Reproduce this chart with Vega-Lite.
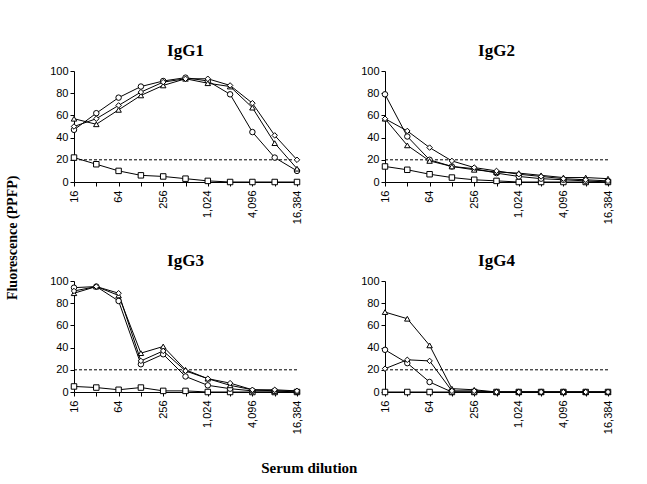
{
  "$schema": "https://vega.github.io/schema/vega-lite/v6.json",
  "padding": {"left": 5, "top": 42, "right": 5, "bottom": 5},
  "background": "white",
  "config": {
    "view": {"stroke": null},
    "font": "Liberation Sans",
    "axis": {"grid": false, "domainColor": "black", "tickColor": "black", "labelColor": "black", "labelFont": "Liberation Sans", "labelFontSize": 11, "tickSize": 4, "domainWidth": 1, "tickWidth": 1, "labelOverlap": false}
  },
  "title": {"text": "Serum dilution", "orient": "bottom", "font": "Liberation Serif", "fontSize": 15, "fontWeight": "bold", "offset": 27, "anchor": "middle", "color": "black"},
  "data": {"values": [
    {"panel":"IgG1","series":"square","dilution":16,"ppfp":22},{"panel":"IgG1","series":"square","dilution":32,"ppfp":16},{"panel":"IgG1","series":"square","dilution":64,"ppfp":10},{"panel":"IgG1","series":"square","dilution":128,"ppfp":6},{"panel":"IgG1","series":"square","dilution":256,"ppfp":5},{"panel":"IgG1","series":"square","dilution":512,"ppfp":3},{"panel":"IgG1","series":"square","dilution":1024,"ppfp":1},{"panel":"IgG1","series":"square","dilution":2048,"ppfp":0},{"panel":"IgG1","series":"square","dilution":4096,"ppfp":0},{"panel":"IgG1","series":"square","dilution":8192,"ppfp":0},{"panel":"IgG1","series":"square","dilution":16384,"ppfp":0},
    {"panel":"IgG1","series":"circle","dilution":16,"ppfp":47},{"panel":"IgG1","series":"circle","dilution":32,"ppfp":62},{"panel":"IgG1","series":"circle","dilution":64,"ppfp":76},{"panel":"IgG1","series":"circle","dilution":128,"ppfp":86},{"panel":"IgG1","series":"circle","dilution":256,"ppfp":91},{"panel":"IgG1","series":"circle","dilution":512,"ppfp":94},{"panel":"IgG1","series":"circle","dilution":1024,"ppfp":91},{"panel":"IgG1","series":"circle","dilution":2048,"ppfp":79},{"panel":"IgG1","series":"circle","dilution":4096,"ppfp":45},{"panel":"IgG1","series":"circle","dilution":8192,"ppfp":22},{"panel":"IgG1","series":"circle","dilution":16384,"ppfp":10},
    {"panel":"IgG1","series":"triangle","dilution":16,"ppfp":57},{"panel":"IgG1","series":"triangle","dilution":32,"ppfp":52},{"panel":"IgG1","series":"triangle","dilution":64,"ppfp":65},{"panel":"IgG1","series":"triangle","dilution":128,"ppfp":78},{"panel":"IgG1","series":"triangle","dilution":256,"ppfp":87},{"panel":"IgG1","series":"triangle","dilution":512,"ppfp":93},{"panel":"IgG1","series":"triangle","dilution":1024,"ppfp":89},{"panel":"IgG1","series":"triangle","dilution":2048,"ppfp":86},{"panel":"IgG1","series":"triangle","dilution":4096,"ppfp":67},{"panel":"IgG1","series":"triangle","dilution":8192,"ppfp":35},{"panel":"IgG1","series":"triangle","dilution":16384,"ppfp":12},
    {"panel":"IgG1","series":"diamond","dilution":16,"ppfp":50},{"panel":"IgG1","series":"diamond","dilution":32,"ppfp":57},{"panel":"IgG1","series":"diamond","dilution":64,"ppfp":69},{"panel":"IgG1","series":"diamond","dilution":128,"ppfp":81},{"panel":"IgG1","series":"diamond","dilution":256,"ppfp":90},{"panel":"IgG1","series":"diamond","dilution":512,"ppfp":93},{"panel":"IgG1","series":"diamond","dilution":1024,"ppfp":93},{"panel":"IgG1","series":"diamond","dilution":2048,"ppfp":87},{"panel":"IgG1","series":"diamond","dilution":4096,"ppfp":71},{"panel":"IgG1","series":"diamond","dilution":8192,"ppfp":42},{"panel":"IgG1","series":"diamond","dilution":16384,"ppfp":20},
    {"panel":"IgG2","series":"square","dilution":16,"ppfp":14},{"panel":"IgG2","series":"square","dilution":32,"ppfp":11},{"panel":"IgG2","series":"square","dilution":64,"ppfp":7},{"panel":"IgG2","series":"square","dilution":128,"ppfp":4},{"panel":"IgG2","series":"square","dilution":256,"ppfp":2},{"panel":"IgG2","series":"square","dilution":512,"ppfp":1},{"panel":"IgG2","series":"square","dilution":1024,"ppfp":0},{"panel":"IgG2","series":"square","dilution":2048,"ppfp":0},{"panel":"IgG2","series":"square","dilution":4096,"ppfp":0},{"panel":"IgG2","series":"square","dilution":8192,"ppfp":0},{"panel":"IgG2","series":"square","dilution":16384,"ppfp":0},
    {"panel":"IgG2","series":"circle","dilution":16,"ppfp":79},{"panel":"IgG2","series":"circle","dilution":32,"ppfp":41},{"panel":"IgG2","series":"circle","dilution":64,"ppfp":20},{"panel":"IgG2","series":"circle","dilution":128,"ppfp":14},{"panel":"IgG2","series":"circle","dilution":256,"ppfp":12},{"panel":"IgG2","series":"circle","dilution":512,"ppfp":8},{"panel":"IgG2","series":"circle","dilution":1024,"ppfp":5},{"panel":"IgG2","series":"circle","dilution":2048,"ppfp":3},{"panel":"IgG2","series":"circle","dilution":4096,"ppfp":2},{"panel":"IgG2","series":"circle","dilution":8192,"ppfp":1},{"panel":"IgG2","series":"circle","dilution":16384,"ppfp":0},
    {"panel":"IgG2","series":"triangle","dilution":16,"ppfp":57},{"panel":"IgG2","series":"triangle","dilution":32,"ppfp":33},{"panel":"IgG2","series":"triangle","dilution":64,"ppfp":19},{"panel":"IgG2","series":"triangle","dilution":128,"ppfp":14},{"panel":"IgG2","series":"triangle","dilution":256,"ppfp":11},{"panel":"IgG2","series":"triangle","dilution":512,"ppfp":9},{"panel":"IgG2","series":"triangle","dilution":1024,"ppfp":8},{"panel":"IgG2","series":"triangle","dilution":2048,"ppfp":6},{"panel":"IgG2","series":"triangle","dilution":4096,"ppfp":4},{"panel":"IgG2","series":"triangle","dilution":8192,"ppfp":4},{"panel":"IgG2","series":"triangle","dilution":16384,"ppfp":3},
    {"panel":"IgG2","series":"diamond","dilution":16,"ppfp":57},{"panel":"IgG2","series":"diamond","dilution":32,"ppfp":46},{"panel":"IgG2","series":"diamond","dilution":64,"ppfp":31},{"panel":"IgG2","series":"diamond","dilution":128,"ppfp":19},{"panel":"IgG2","series":"diamond","dilution":256,"ppfp":13},{"panel":"IgG2","series":"diamond","dilution":512,"ppfp":10},{"panel":"IgG2","series":"diamond","dilution":1024,"ppfp":7},{"panel":"IgG2","series":"diamond","dilution":2048,"ppfp":5},{"panel":"IgG2","series":"diamond","dilution":4096,"ppfp":3},{"panel":"IgG2","series":"diamond","dilution":8192,"ppfp":2},{"panel":"IgG2","series":"diamond","dilution":16384,"ppfp":1},
    {"panel":"IgG3","series":"square","dilution":16,"ppfp":5},{"panel":"IgG3","series":"square","dilution":32,"ppfp":4},{"panel":"IgG3","series":"square","dilution":64,"ppfp":2},{"panel":"IgG3","series":"square","dilution":128,"ppfp":4},{"panel":"IgG3","series":"square","dilution":256,"ppfp":1},{"panel":"IgG3","series":"square","dilution":512,"ppfp":1},{"panel":"IgG3","series":"square","dilution":1024,"ppfp":0},{"panel":"IgG3","series":"square","dilution":2048,"ppfp":0},{"panel":"IgG3","series":"square","dilution":4096,"ppfp":0},{"panel":"IgG3","series":"square","dilution":8192,"ppfp":0},{"panel":"IgG3","series":"square","dilution":16384,"ppfp":0},
    {"panel":"IgG3","series":"circle","dilution":16,"ppfp":94},{"panel":"IgG3","series":"circle","dilution":32,"ppfp":95},{"panel":"IgG3","series":"circle","dilution":64,"ppfp":82},{"panel":"IgG3","series":"circle","dilution":128,"ppfp":25},{"panel":"IgG3","series":"circle","dilution":256,"ppfp":34},{"panel":"IgG3","series":"circle","dilution":512,"ppfp":14},{"panel":"IgG3","series":"circle","dilution":1024,"ppfp":6},{"panel":"IgG3","series":"circle","dilution":2048,"ppfp":3},{"panel":"IgG3","series":"circle","dilution":4096,"ppfp":1},{"panel":"IgG3","series":"circle","dilution":8192,"ppfp":1},{"panel":"IgG3","series":"circle","dilution":16384,"ppfp":0},
    {"panel":"IgG3","series":"triangle","dilution":16,"ppfp":89},{"panel":"IgG3","series":"triangle","dilution":32,"ppfp":95},{"panel":"IgG3","series":"triangle","dilution":64,"ppfp":87},{"panel":"IgG3","series":"triangle","dilution":128,"ppfp":35},{"panel":"IgG3","series":"triangle","dilution":256,"ppfp":41},{"panel":"IgG3","series":"triangle","dilution":512,"ppfp":20},{"panel":"IgG3","series":"triangle","dilution":1024,"ppfp":12},{"panel":"IgG3","series":"triangle","dilution":2048,"ppfp":6},{"panel":"IgG3","series":"triangle","dilution":4096,"ppfp":2},{"panel":"IgG3","series":"triangle","dilution":8192,"ppfp":1},{"panel":"IgG3","series":"triangle","dilution":16384,"ppfp":1},
    {"panel":"IgG3","series":"diamond","dilution":16,"ppfp":91},{"panel":"IgG3","series":"diamond","dilution":32,"ppfp":95},{"panel":"IgG3","series":"diamond","dilution":64,"ppfp":89},{"panel":"IgG3","series":"diamond","dilution":128,"ppfp":28},{"panel":"IgG3","series":"diamond","dilution":256,"ppfp":37},{"panel":"IgG3","series":"diamond","dilution":512,"ppfp":19},{"panel":"IgG3","series":"diamond","dilution":1024,"ppfp":12},{"panel":"IgG3","series":"diamond","dilution":2048,"ppfp":8},{"panel":"IgG3","series":"diamond","dilution":4096,"ppfp":2},{"panel":"IgG3","series":"diamond","dilution":8192,"ppfp":2},{"panel":"IgG3","series":"diamond","dilution":16384,"ppfp":1},
    {"panel":"IgG4","series":"square","dilution":16,"ppfp":0},{"panel":"IgG4","series":"square","dilution":32,"ppfp":0},{"panel":"IgG4","series":"square","dilution":64,"ppfp":0},{"panel":"IgG4","series":"square","dilution":128,"ppfp":0},{"panel":"IgG4","series":"square","dilution":256,"ppfp":0},{"panel":"IgG4","series":"square","dilution":512,"ppfp":0},{"panel":"IgG4","series":"square","dilution":1024,"ppfp":0},{"panel":"IgG4","series":"square","dilution":2048,"ppfp":0},{"panel":"IgG4","series":"square","dilution":4096,"ppfp":0},{"panel":"IgG4","series":"square","dilution":8192,"ppfp":0},{"panel":"IgG4","series":"square","dilution":16384,"ppfp":0},
    {"panel":"IgG4","series":"circle","dilution":16,"ppfp":38},{"panel":"IgG4","series":"circle","dilution":32,"ppfp":26},{"panel":"IgG4","series":"circle","dilution":64,"ppfp":9},{"panel":"IgG4","series":"circle","dilution":128,"ppfp":0},{"panel":"IgG4","series":"circle","dilution":256,"ppfp":0},{"panel":"IgG4","series":"circle","dilution":512,"ppfp":0},{"panel":"IgG4","series":"circle","dilution":1024,"ppfp":0},{"panel":"IgG4","series":"circle","dilution":2048,"ppfp":0},{"panel":"IgG4","series":"circle","dilution":4096,"ppfp":0},{"panel":"IgG4","series":"circle","dilution":8192,"ppfp":0},{"panel":"IgG4","series":"circle","dilution":16384,"ppfp":0},
    {"panel":"IgG4","series":"triangle","dilution":16,"ppfp":72},{"panel":"IgG4","series":"triangle","dilution":32,"ppfp":66},{"panel":"IgG4","series":"triangle","dilution":64,"ppfp":42},{"panel":"IgG4","series":"triangle","dilution":128,"ppfp":3},{"panel":"IgG4","series":"triangle","dilution":256,"ppfp":2},{"panel":"IgG4","series":"triangle","dilution":512,"ppfp":0},{"panel":"IgG4","series":"triangle","dilution":1024,"ppfp":0},{"panel":"IgG4","series":"triangle","dilution":2048,"ppfp":0},{"panel":"IgG4","series":"triangle","dilution":4096,"ppfp":0},{"panel":"IgG4","series":"triangle","dilution":8192,"ppfp":0},{"panel":"IgG4","series":"triangle","dilution":16384,"ppfp":0},
    {"panel":"IgG4","series":"diamond","dilution":16,"ppfp":21},{"panel":"IgG4","series":"diamond","dilution":32,"ppfp":29},{"panel":"IgG4","series":"diamond","dilution":64,"ppfp":28},{"panel":"IgG4","series":"diamond","dilution":128,"ppfp":1},{"panel":"IgG4","series":"diamond","dilution":256,"ppfp":1},{"panel":"IgG4","series":"diamond","dilution":512,"ppfp":0},{"panel":"IgG4","series":"diamond","dilution":1024,"ppfp":0},{"panel":"IgG4","series":"diamond","dilution":2048,"ppfp":0},{"panel":"IgG4","series":"diamond","dilution":4096,"ppfp":0},{"panel":"IgG4","series":"diamond","dilution":8192,"ppfp":0},{"panel":"IgG4","series":"diamond","dilution":16384,"ppfp":0}
  ]},
  "hconcat": [{
    "title": {"text": "Fluorescence (PPFP)", "orient": "left", "font": "Liberation Serif", "fontSize": 14, "fontWeight": "bold", "offset": 30, "anchor": "middle", "color": "black"},
    "facet": {"field": "panel", "type": "nominal", "header": {"title": null, "labelFont": "Liberation Serif", "labelFontSize": 17, "labelFontWeight": "bold", "labelColor": "black", "labelPadding": 5}},
    "columns": 2,
    "spacing": {"row": 28, "column": 58},
    "resolve": {"axis": {"x": "independent", "y": "independent"}},
    "spec": {
      "width": 223,
      "height": 111,
      "layer": [
        {
          "transform": [{"filter": "datum.series == 'square' && datum.dilution == 16"}],
          "mark": {"type": "rule", "strokeDash": [3, 2], "color": "black", "strokeWidth": 1},
          "encoding": {"y": {"datum": 20, "type": "quantitative", "scale": {"domain": [0, 100]}, "axis": {"title": null, "values": [0, 20, 40, 60, 80, 100], "labelOverlap": false, "tickCount": 6}}}
        },
        {
          "mark": {"type": "line", "color": "black", "strokeWidth": 1},
          "encoding": {
            "x": {"field": "dilution", "type": "quantitative", "scale": {"type": "log", "base": 2, "domain": [16, 16384]},
              "axis": {"title": null, "values": [16, 32, 64, 128, 256, 512, 1024, 2048, 4096, 8192, 16384], "labelAngle": -90, "labelExpr": "(round(log(datum.value)/LN2) % 2 == 0) ? format(datum.value, ',') : ''", "labelPadding": 4, "labelOverlap": false}},
            "y": {"field": "ppfp", "type": "quantitative", "scale": {"domain": [0, 100]}, "axis": {"title": null, "values": [0, 20, 40, 60, 80, 100], "labelOverlap": false, "tickCount": 6}},
            "detail": {"field": "series"}
          }
        },
        {
          "mark": {"type": "point", "filled": true, "fill": "white", "stroke": "black", "strokeWidth": 1, "size": 30, "opacity": 1},
          "encoding": {
            "x": {"field": "dilution", "type": "quantitative", "axis": {"title": null, "values": [16, 32, 64, 128, 256, 512, 1024, 2048, 4096, 8192, 16384], "labelAngle": -90, "labelExpr": "(round(log(datum.value)/LN2) % 2 == 0) ? format(datum.value, ',') : ''", "labelPadding": 4, "labelOverlap": false}},
            "y": {"field": "ppfp", "type": "quantitative", "axis": {"title": null, "values": [0, 20, 40, 60, 80, 100], "labelOverlap": false, "tickCount": 6}},
            "shape": {"field": "series", "type": "nominal", "scale": {"domain": ["square", "circle", "triangle", "diamond"], "range": ["square", "circle", "triangle-up", "diamond"]}, "legend": null}
          }
        }
      ]
    }
  }]
}
